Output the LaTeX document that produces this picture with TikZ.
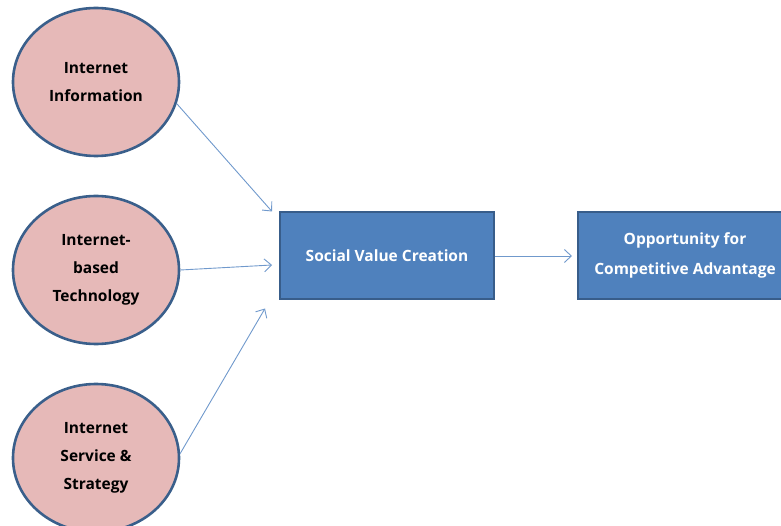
\documentclass[tikz,border=0pt]{standalone}
\usepackage{fontspec}
\setmainfont{Open Sans}
\usetikzlibrary{shapes.geometric,arrows.meta}
\definecolor{ellfill}{HTML}{E6B9B8}
\definecolor{ellline}{HTML}{3A5F8B}
\definecolor{boxfill}{HTML}{4F81BD}
\definecolor{boxline}{HTML}{385D8A}
\definecolor{arrcol}{HTML}{7099CC}
\tikzset{
  factor/.style={ellipse, draw=ellline, fill=ellfill, line width=2.6pt,
    minimum width=166pt, minimum height=148pt, inner sep=0pt, align=center,
    font=\bfseries\fontsize{15.5pt}{28pt}\selectfont, text=black},
  stage/.style={rectangle, draw=boxline, fill=boxfill, line width=2pt,
    minimum width=214pt, minimum height=87pt, inner sep=0pt, align=center,
    font=\bfseries\fontsize{15.5pt}{30pt}\selectfont, text=white},
  link/.style={draw=arrcol, line width=0.9pt, -{Straight Barb[length=7pt,width=13pt,line width=0.9pt]}}
}
\begin{document}
\begin{tikzpicture}[x=1pt,y=-1pt]
\useasboundingbox (0,0) rectangle (781,526);
\clip (0,0) rectangle (781,526);
\node[factor] (e1) at (96,82) {Internet\\Information};
\node[factor] (e2) at (96,270) {Internet-\\based\\Technology};
\node[factor] (e3) at (96,458) {Internet\\Service \&\\Strategy};
\node[stage] (b1) at (387,256) {Social Value Creation};
\node[stage, text depth=4pt] (b2) at (685,256) {Opportunity for\\Competitive Advantage};
\coordinate (t1) at ([xshift=-7pt]b1.north west);
\coordinate (t2) at ([xshift=-7pt,yshift=-9pt]b1.west);
\coordinate (t3) at ([xshift=-14pt,yshift=-8pt]b1.south west);
\coordinate (t4) at ([xshift=-5pt]b2.west);
\draw[link] (e1.-15) -- (t1);
\draw[link] (e2.east) -- (t2);
\draw[link] (e3.3) -- (t3);
\draw[link] (b1.east) -- (t4);
\end{tikzpicture}
\end{document}
